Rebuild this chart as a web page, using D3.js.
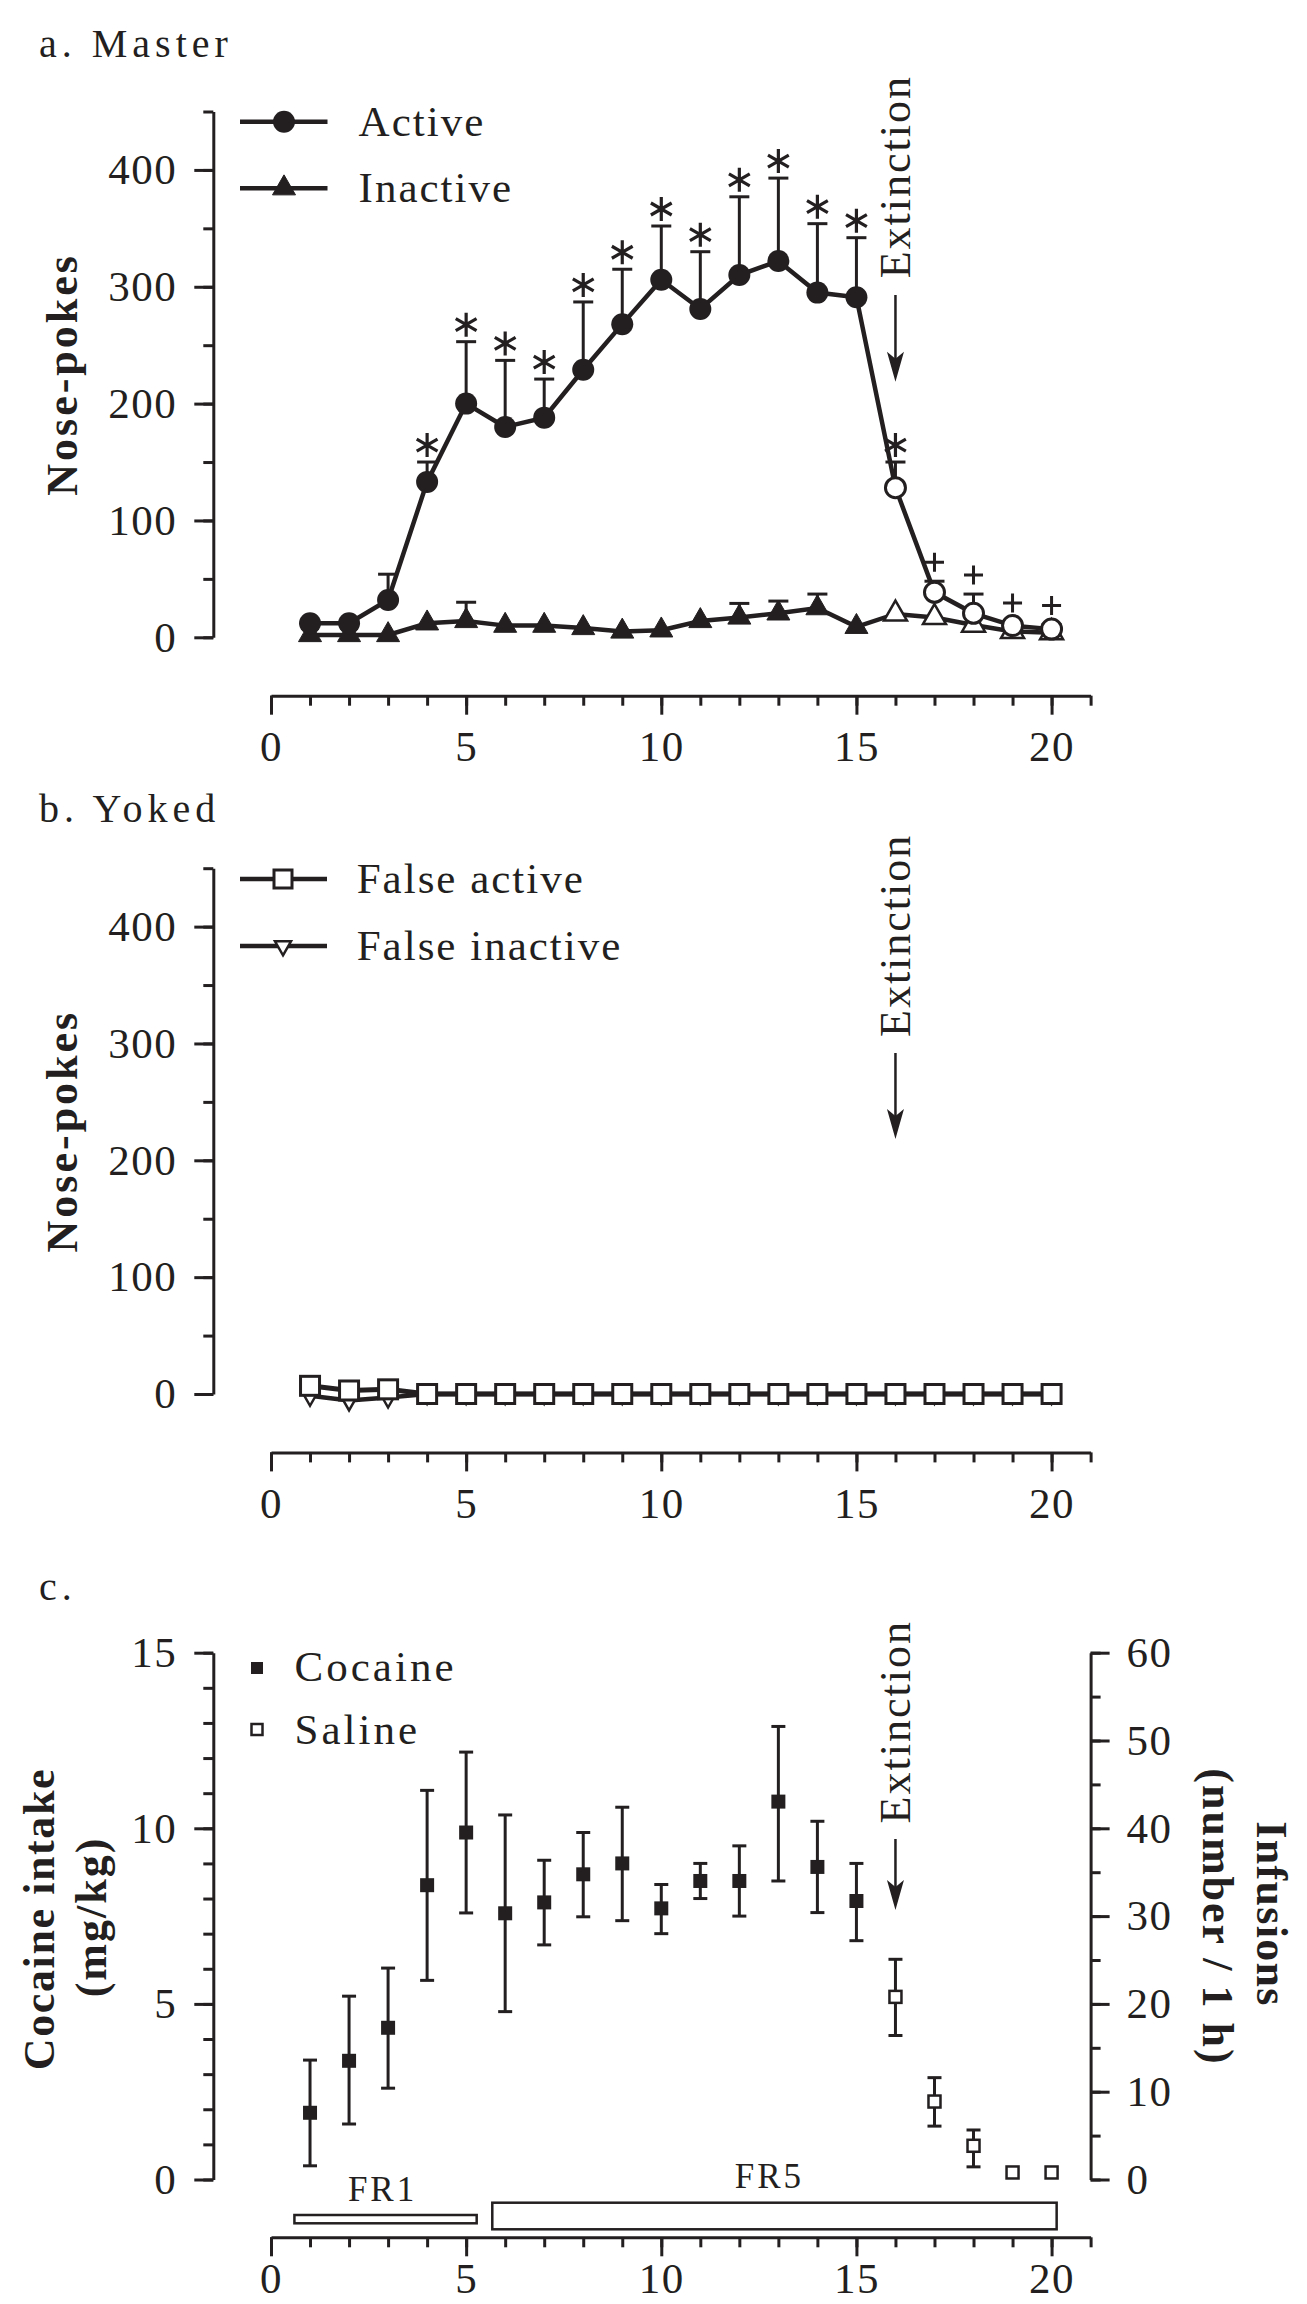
<!DOCTYPE html>
<html><head><meta charset="utf-8">
<script src="https://cdn.jsdelivr.net/npm/d3@7"></script>
<style>
html,body{margin:0;padding:0;background:#fff;}
svg{display:block;}
text{font-family:"Liberation Serif","Times New Roman",Times,serif;fill:#231f20;}
</style></head><body>
<svg id="chart" width="1307" height="2304"></svg>
<script>
// ---------------- DATA ----------------
const days = [1,2,3,4,5,6,7,8,9,10,11,12,13,14,15,16,17,18,19,20];
const extinctionDay = 16;

// Panel a: Master
const activeMean  = [12,12,32,133,200,180,188,229,268,306,281,310,322,295,291,128,38.5,20.5,10,7];
const activeUpper = [null,null,54,150,253,237,221,287,315,352,330,377,393,354,342,150,48,37,13,11];
const activeMarks = ["","","","*","*","*","*","*","*","*","*","*","*","*","*","*","+","+","+","+"];
const inactiveMean  = [2,2,2,12,14,10,10,8,5,6,14,17,20.5,25,9,20,17,10.5,5,4];
const inactiveUpper = [null,null,null,null,30,null,null,null,null,null,null,29,31,37,null,null,null,null,null,null];

// Panel b: Yoked
const falseActive   = [7,3,4,0,0,0,0,0,0,0,0,0,0,0,0,0,0,0,0,0];
const falseInactive = [-1.5,-5.5,-3,0,0,0,0,0,0,0,0,0,0,0,0,0,0,0,0,0];

// Panel c: intake
const cocaineDays = [1,2,3,4,5,6,7,8,9,10,11,12,13,14,15];
const cocaineMean = [1.9,3.38,4.32,8.38,9.88,7.58,7.89,8.69,9.0,7.72,8.5,8.5,10.76,8.9,7.93];
const cocaineLow  = [0.39,1.58,2.6,5.67,7.59,4.78,6.68,7.48,7.37,7.0,8.0,7.5,8.5,7.6,6.8];
const cocaineHigh = [3.4,5.22,6.02,11.08,12.17,10.38,9.09,9.88,10.6,8.4,9.0,9.5,12.9,10.2,9.0];
const salineDays = [16,17,18,19,20];
const salineMean = [5.2,2.22,0.96,0.2,0.2];
const salineLow  = [4.1,1.52,0.36,null,null];
const salineHigh = [6.27,2.9,1.41,null,null];

const schedLabels = ["FR1","FR5"];
const schedFrom = [0.6,5.67];
const schedTo   = [5.27,20.13];

const xTickLabels = [0,5,10,15,20];
const xMinorTicks = [0,1,2,3,4,5,6,7,8,9,10,11,12,13,14,15,16,17,18,19,20,21];
const noseTicks = [0,100,200,300,400];
const noseMinor = [0,50,100,150,200,250,300,350,400,450];
const intakeTicks = [0,5,10,15];
const intakeMinor = [0,1,2,3,4,5,6,7,8,9,10,11,12,13,14,15];
const infTicks = [0,10,20,30,40,50,60];
const infMinor = [0,5,10,15,20,25,30,35,40,45,50,55,60];

// ---------------- LAYOUT ----------------
const INK = "#231f20";
const svg = d3.select("#chart");
const x = d3.scaleLinear().domain([0,21]).range([271,1090.6]);
const axisX = 213.3;
const yA = d3.scaleLinear().domain([0,450]).range([637.3,111.5]);
const yB = d3.scaleLinear().domain([0,450]).range([1394,868.2]);
const yC = d3.scaleLinear().domain([0,15]).range([2179.5,1652.7]);
const yCR = d3.scaleLinear().domain([0,60]).range([2179.5,1652.7]);

function styleAxis(g){
  g.attr("font-family",null).attr("font-size",null);
  g.selectAll("path,line").attr("stroke",INK).attr("stroke-width",3);
  g.selectAll("text").attr("fill",INK).style("font-size","43px").style("letter-spacing","1.5px");
}
function xAxis(yPos, pad){
  const g1 = svg.append("g").attr("transform",`translate(0,${yPos})`)
    .call(d3.axisBottom(x).tickValues(xMinorTicks).tickSize(10).tickSizeOuter(0).tickFormat(""));
  styleAxis(g1);
  const g2 = svg.append("g").attr("transform",`translate(0,${yPos})`)
    .call(d3.axisBottom(x).tickValues(xTickLabels).tickSize(19).tickPadding(pad).tickFormat(d3.format("d")));
  g2.select(".domain").remove();
  styleAxis(g2);
}
function yAxisLeft(scale, minor, major){
  const g1 = svg.append("g").attr("transform",`translate(${axisX},0)`)
    .call(d3.axisLeft(scale).tickValues(minor).tickSize(10).tickSizeOuter(0).tickFormat(""));
  styleAxis(g1);
  const g2 = svg.append("g").attr("transform",`translate(${axisX},0)`)
    .call(d3.axisLeft(scale).tickValues(major).tickSize(19).tickPadding(17).tickFormat(d3.format("d")));
  g2.select(".domain").remove();
  styleAxis(g2);
}
function title(txt, yb){
  svg.append("text").attr("x",39).attr("y",yb).style("font-size","40px")
    .style("letter-spacing","5px").text(txt);
}
function vlabel(txt, xb, yc, rot, bold, ls){
  svg.append("text").attr("transform",`translate(${xb},${yc}) rotate(${rot})`)
    .attr("text-anchor","middle").style("font-size","44px")
    .style("font-weight",bold?"bold":"normal").style("letter-spacing",(ls||2)+"px").text(txt);
}
function extinction(textStartY, arrowTop, arrowTip){
  const xe = x(extinctionDay);
  svg.append("text").attr("transform",`translate(${xe+14.5},${textStartY}) rotate(-90)`)
    .style("font-size","44px").style("letter-spacing","2px").text("Extinction");
  svg.append("line").attr("x1",xe).attr("x2",xe).attr("y1",arrowTop).attr("y2",arrowTip-10)
    .attr("stroke",INK).attr("stroke-width",2.5);
  svg.append("path").attr("d",`M${xe},${arrowTip} L${xe-8.5},${arrowTip-30} L${xe},${arrowTip-23} L${xe+8.5},${arrowTip-30} Z`)
    .attr("fill",INK);
}
const triH = 20, triW = 23;
function triUp(cx,cy,w,h){ return `M${cx},${cy-2*h/3} L${cx+w/2},${cy+h/3} L${cx-w/2},${cy+h/3} Z`; }
function triDown(cx,cy,w,h){ return `M${cx},${cy+2*h/3} L${cx+w/2},${cy-h/3} L${cx-w/2},${cy-h/3} Z`; }
function star(cx,cy,r){
  let d = `M${cx},${cy-r} L${cx},${cy+r}`;
  [30,150].forEach(a=>{const rad=a*Math.PI/180; d+=` M${cx+r*Math.cos(rad)},${cy-r*Math.sin(rad)} L${cx-r*Math.cos(rad)},${cy+r*Math.sin(rad)}`;});
  return d;
}
function plus(cx,cy,r){ return `M${cx-r},${cy} L${cx+r},${cy} M${cx},${cy-r} L${cx},${cy+r}`; }

// ---------------- PANEL A ----------------
title("a. Master", 57);
yAxisLeft(yA, noseMinor, noseTicks);
xAxis(695.7, 16);
vlabel("Nose-pokes", 77, (yA(0)+yA(450))/2, -90, true, 3);
extinction(278.3, 295, 381.7);

const gA = svg.append("g");
function upperBars(g, mean, upper, y){
  days.forEach((d,i)=>{
    if(upper[i]==null) return;
    g.append("line").attr("x1",x(d)).attr("x2",x(d)).attr("y1",y(mean[i])).attr("y2",y(upper[i]))
      .attr("stroke",INK).attr("stroke-width",3);
    g.append("line").attr("x1",x(d)-10).attr("x2",x(d)+10).attr("y1",y(upper[i])).attr("y2",y(upper[i]))
      .attr("stroke",INK).attr("stroke-width",3);
  });
}
upperBars(gA, inactiveMean, inactiveUpper, yA);
upperBars(gA, activeMean, activeUpper, yA);
days.forEach((d,i)=>{
  const m = activeMarks[i]; if(!m) return;
  const capY = yA(activeUpper[i]);
  if(m==="*") gA.append("path").attr("d",star(x(d),capY-17,12)).attr("stroke",INK).attr("stroke-width",3.2).attr("fill","none");
  else gA.append("path").attr("d",plus(x(d),capY-19,9.5)).attr("stroke",INK).attr("stroke-width",3).attr("fill","none");
});
const line = (y,arr)=>d3.line().x((d)=>x(d)).y((d,i)=>y(arr[i]))(days);
gA.append("path").attr("d",line(yA,inactiveMean)).attr("fill","none").attr("stroke",INK).attr("stroke-width",4.5);
gA.append("path").attr("d",line(yA,activeMean)).attr("fill","none").attr("stroke",INK).attr("stroke-width",4.5);
days.forEach((d,i)=>{
  const open = d>=extinctionDay;
  gA.append("path").attr("d",triUp(x(d),yA(inactiveMean[i]),triW,triH))
    .attr("fill",open?"#fff":INK).attr("stroke",INK).attr("stroke-width",open?2.5:1).attr("stroke-linejoin","miter");
});
days.forEach((d,i)=>{
  const open = d>=extinctionDay;
  gA.append("circle").attr("cx",x(d)).attr("cy",yA(activeMean[i])).attr("r",open?10:11)
    .attr("fill",open?"#fff":INK).attr("stroke",INK).attr("stroke-width",open?3:0);
});
const legA = svg.append("g");
[["Active",121.7],["Inactive",188.2]].forEach(([t,ly],k)=>{
  legA.append("line").attr("x1",240).attr("x2",327.5).attr("y1",ly).attr("y2",ly).attr("stroke",INK).attr("stroke-width",4.5);
  if(k===0) legA.append("circle").attr("cx",284).attr("cy",ly).attr("r",11).attr("fill",INK);
  else legA.append("path").attr("d",triUp(284,ly,triW,triH)).attr("fill",INK).attr("stroke",INK).attr("stroke-width",1);
  legA.append("text").attr("x",358.6).attr("y",ly).attr("dy","0.33em").style("font-size","43px").style("letter-spacing","2px").text(t);
});

// ---------------- PANEL B ----------------
title("b. Yoked", 822);
yAxisLeft(yB, noseMinor, noseTicks);
xAxis(1452.4, 16);
vlabel("Nose-pokes", 77, (yB(0)+yB(450))/2, -90, true, 3);
extinction(1037, 1053, 1139);
const gB = svg.append("g");
gB.append("path").attr("d",line(yB,falseInactive)).attr("fill","none").attr("stroke",INK).attr("stroke-width",4.5);
days.forEach((d,i)=>{
  gB.append("path").attr("d",triDown(x(d),yB(falseInactive[i]),17,15)).attr("fill","#fff").attr("stroke",INK).attr("stroke-width",2.5);
});
gB.append("path").attr("d",line(yB,falseActive)).attr("fill","none").attr("stroke",INK).attr("stroke-width",5);
days.forEach((d,i)=>{
  gB.append("rect").attr("x",x(d)-9.5).attr("y",yB(falseActive[i])-9.5).attr("width",19).attr("height",19)
    .attr("fill","#fff").attr("stroke",INK).attr("stroke-width",3);
});
const legB = svg.append("g");
[["False active",879],["False inactive",946]].forEach(([t,ly],k)=>{
  legB.append("line").attr("x1",240).attr("x2",327).attr("y1",ly).attr("y2",ly).attr("stroke",INK).attr("stroke-width",4.5);
  if(k===0) legB.append("rect").attr("x",283-9).attr("y",ly-9).attr("width",18).attr("height",18).attr("fill","#fff").attr("stroke",INK).attr("stroke-width",3);
  else legB.append("path").attr("d",triDown(283,ly,16,14)).attr("fill","#fff").attr("stroke",INK).attr("stroke-width",2.5);
  legB.append("text").attr("x",356.7).attr("y",ly).attr("dy","0.33em").style("font-size","43px").style("letter-spacing","2px").text(t);
});

// ---------------- PANEL C ----------------
title("c.", 1600);
yAxisLeft(yC, intakeMinor, intakeTicks);
xAxis(2237.3, 6);
{
  const xr = x(21);
  const g1 = svg.append("g").attr("transform",`translate(${xr},0)`)
    .call(d3.axisRight(yCR).tickValues(infMinor).tickSize(10).tickSizeOuter(0).tickFormat(""));
  styleAxis(g1);
  const g2 = svg.append("g").attr("transform",`translate(${xr},0)`)
    .call(d3.axisRight(yCR).tickValues(infTicks).tickSize(19).tickPadding(17).tickFormat(d3.format("d")));
  g2.select(".domain").remove();
  styleAxis(g2);
}
vlabel("Cocaine intake", 54, 1919, -90, true, 1.6);
vlabel("(mg/kg)", 106, 1917, -90, true, 2);
vlabel("Infusions", 1257, 1914, 90, true, 1.3);
vlabel("(number / 1 h)", 1203, 1917, 90, true, 2);
extinction(1823.4, 1839, 1910);

const gC = svg.append("g");
function bars(dd, lo, hi){
  dd.forEach((d,i)=>{
    if(lo[i]==null) return;
    gC.append("line").attr("x1",x(d)).attr("x2",x(d)).attr("y1",yC(lo[i])).attr("y2",yC(hi[i])).attr("stroke",INK).attr("stroke-width",3);
    [lo[i],hi[i]].forEach(v=>gC.append("line").attr("x1",x(d)-7).attr("x2",x(d)+7).attr("y1",yC(v)).attr("y2",yC(v)).attr("stroke",INK).attr("stroke-width",3));
  });
}
bars(cocaineDays, cocaineLow, cocaineHigh);
bars(salineDays, salineLow, salineHigh);
cocaineDays.forEach((d,i)=>gC.append("rect").attr("x",x(d)-7).attr("y",yC(cocaineMean[i])-7).attr("width",14).attr("height",14).attr("fill",INK));
salineDays.forEach((d,i)=>gC.append("rect").attr("x",x(d)-6).attr("y",yC(salineMean[i])-6).attr("width",12).attr("height",12).attr("fill","#fff").attr("stroke",INK).attr("stroke-width",2.5));

const boxY = [[2215,2223.3],[2202.7,2229.3]];
const labY = [2200.7,2188];
schedLabels.forEach((t,i)=>{
  gC.append("rect").attr("x",x(schedFrom[i])).attr("y",boxY[i][0]).attr("width",x(schedTo[i])-x(schedFrom[i]))
    .attr("height",boxY[i][1]-boxY[i][0]).attr("fill","#fff").attr("stroke",INK).attr("stroke-width",2.5);
  gC.append("text").attr("x",(x(schedFrom[i])+x(schedTo[i]))/2 + (i===0?-3:-5)).attr("y",labY[i]).attr("text-anchor","middle")
    .style("font-size","35px").style("letter-spacing","3px").text(t);
});
gC.append("rect").attr("x",251).attr("y",1662).attr("width",12).attr("height",12).attr("fill",INK);
gC.append("rect").attr("x",251.5).attr("y",1724).attr("width",11).attr("height",11).attr("fill","#fff").attr("stroke",INK).attr("stroke-width",2.5);
gC.append("text").attr("x",294.6).attr("y",1681).style("font-size","43px").style("letter-spacing","3px").text("Cocaine");
gC.append("text").attr("x",294.6).attr("y",1744).style("font-size","43px").style("letter-spacing","3px").text("Saline");
</script>
</body></html>
